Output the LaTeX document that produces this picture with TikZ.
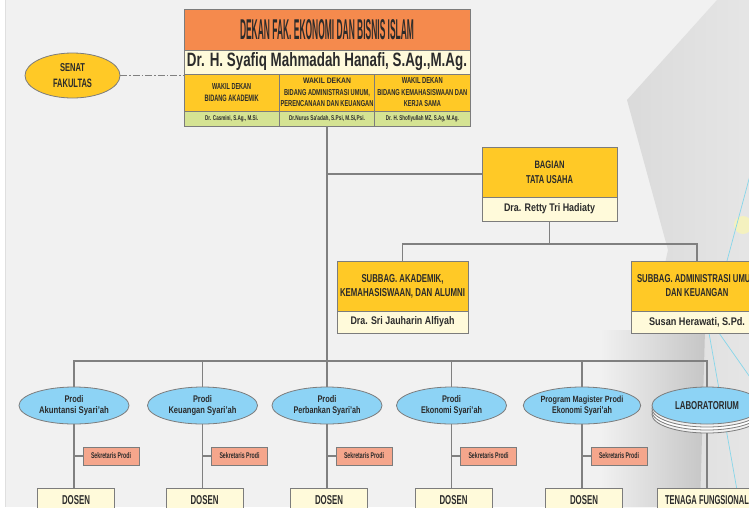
\documentclass[tikz,border=0pt]{standalone}
\usepackage{fontspec}
\setmainfont{Liberation Sans}
\usepackage{graphicx}
\usetikzlibrary{shapes.geometric}
\definecolor{bgc}{HTML}{F1F1F1}
\definecolor{orangeC}{HTML}{F58A4D}
\definecolor{creamC}{HTML}{FFFADA}
\definecolor{yelC}{HTML}{FFC926}
\definecolor{greenC}{HTML}{D5E393}
\definecolor{blueC}{HTML}{8DD3F5}
\definecolor{salC}{HTML}{F5A68C}
\definecolor{edgeC}{HTML}{7C7C7C}
\definecolor{lineC}{HTML}{808080}
\definecolor{txtC}{HTML}{2B2B2B}
\definecolor{cyanC}{HTML}{86D6EA}
\newcommand\ft[3]{\resizebox{#1pt}{#2pt}{\bfseries #3}}
\tikzset{
 box/.style={draw=edgeC, line width=0.8pt, inner sep=0pt, text=txtC, align=center, rectangle},
 ov/.style={draw=edgeC, line width=0.8pt, ellipse, inner sep=0pt, fill=blueC, text=txtC, align=center, minimum width=110pt, minimum height=37pt},
 conn/.style={draw=lineC, line width=1.1pt},
 sek/.style={box, fill=salC, minimum width=56pt, minimum height=18pt},
 dos/.style={box, fill=creamC, minimum width=77pt, minimum height=25pt},
 lh/.style={font=\fontsize{8}{#1}\selectfont},
}
\begin{document}
\begin{tikzpicture}[x=1pt,y=-1pt]
\useasboundingbox (0,0) rectangle (749,507);
\clip (0,0) rectangle (749,507);
% background
\fill[bgc] (0,0) rectangle (749,507);
\fill[white] (0,0) rectangle (5,507);
\draw[gray!25, line width=0.6pt] (5.5,0) -- (5.5,507);
\shade[left color=gray!30, right color=gray!20] (717,0) -- (749,0) -- (749,507) -- (610,507) -- (668,250) -- (627,100) -- cycle;
\shade[left color=bgc, right color=gray!45] (600,330) -- (705,330) -- (700,507) -- (600,507) -- cycle;
\fill[yellow!35, opacity=0.6] (743,225) circle (9);
\draw[cyanC, line width=0.7pt] (752,168) -- (724,272);
\draw[cyanC, line width=0.7pt] (709,333) -- (740,507);
\draw[cyanC, line width=0.7pt] (719,333) -- (752,380);

% top block
\node[box, fill=orangeC, minimum width=286pt, minimum height=41pt] (dekan) at (327,29.5) {\ft{174}{20}{DEKAN FAK. EKONOMI DAN BISNIS ISLAM}};
\node[box, fill=creamC, minimum width=286pt, minimum height=24pt] (nama) at (327,62) {\ft{280}{14}{Dr. H. Syafiq Mahmadah Hanafi, S.Ag.,M.Ag.}};
\node[box, fill=yelC, minimum width=95.33pt, minimum height=37pt, lh=12] (w1) at (231.67,92.5) {\ft{39}{6}{WAKIL DEKAN}\\\ft{54}{6.5}{BIDANG AKADEMIK}};
\node[box, fill=yelC, minimum width=95.33pt, minimum height=37pt, lh=11.5] (w2) at (327,92.5) {\ft{48}{5.5}{WAKIL DEKAN}\\\ft{86}{6}{BIDANG ADMINISTRASI UMUM,}\\\ft{93}{6}{PERENCANAAN DAN KEUANGAN}};
\node[box, fill=yelC, minimum width=95.33pt, minimum height=37pt, lh=11.5] (w3) at (422.33,92.5) {\ft{41}{6}{WAKIL DEKAN}\\\ft{90}{6}{BIDANG KEMAHASISWAAN DAN}\\\ft{37}{6}{KERJA SAMA}};
\node[box, fill=greenC, minimum width=95.33pt, minimum height=15pt] (n1) at (231.67,118.5) {\ft{53}{5}{Dr. Casmini, S.Ag., M.Si.}};
\node[box, fill=greenC, minimum width=95.33pt, minimum height=15pt] (n2) at (327,118.5) {\ft{76}{5}{Dr.Nurus Sa'adah, S.Psi, M.Si,Psi.}};
\node[box, fill=greenC, minimum width=95.33pt, minimum height=15pt] (n3) at (422.33,118.5) {\ft{73}{5}{Dr. H. Shofiyullah MZ, S.Ag, M.Ag.}};

% senat
\node[ov, fill=yelC, minimum width=95pt, minimum height=45pt, lh=16] (senat) at (72.5,75.5) {\ft{25}{8}{SENAT}\\\ft{39}{8.5}{FAKULTAS}};

% bagian tata usaha
\node[box, fill=yelC, minimum width=135pt, minimum height=50pt, lh=15] (bag) at (549.5,172) {\ft{30}{7.5}{BAGIAN}\\\ft{47}{8}{TATA USAHA}};
\node[box, fill=creamC, minimum width=135pt, minimum height=24pt] (bagn) at (549.5,209) {\ft{91}{8}{Dra. Retty Tri Hadiaty}};

% subbag
\node[box, fill=yelC, minimum width=131pt, minimum height=50pt, lh=14] (sa) at (402.5,286) {\ft{82}{8}{SUBBAG. AKADEMIK,}\\\ft{125}{8}{KEMAHASISWAAN, DAN ALUMNI}};
\node[box, fill=creamC, minimum width=131pt, minimum height=22pt] (san) at (402.5,322) {\ft{104}{8}{Dra. Sri Jauharin Alfiyah}};
\node[box, fill=yelC, minimum width=131pt, minimum height=50pt, lh=14] (sb) at (697,286) {\ft{120}{8}{SUBBAG. ADMINISTRASI UMUM}\\\ft{63}{8}{DAN KEUANGAN}};
\node[box, fill=creamC, minimum width=131pt, minimum height=22pt] (sbn) at (697,322) {\ft{96}{8}{Susan Herawati, S.Pd.}};

% prodi
\node[ov, lh=11] (p1) at (74,405.5) {\ft{19}{7}{Prodi}\\\ft{70}{7}{Akuntansi Syari'ah}};
\node[ov, lh=11] (p2) at (202.5,405.5) {\ft{19}{7}{Prodi}\\\ft{68}{7}{Keuangan Syari'ah}};
\node[ov, lh=11] (p3) at (327,405.5) {\ft{19}{7}{Prodi}\\\ft{67}{7}{Perbankan Syari'ah}};
\node[ov, lh=11] (p4) at (451.5,405.5) {\ft{19}{7}{Prodi}\\\ft{61}{7}{Ekonomi Syari'ah}};
\node[ov, lh=10.5] (p5) at (582,405.5) {\ft{83}{6.5}{Program Magister Prodi}\\\ft{60}{7}{Ekonomi Syari'ah}};
\node[ov, fill=gray!10] (lab3) at (707,414.5) {};
\node[ov, fill=white] (lab2) at (707,411.5) {};
\node[ov, fill=gray!10] (lab1) at (707,408.5) {};
\node[ov] (p6) at (707,405.5) {\ft{64}{8}{LABORATORIUM}};

% sekretaris
\node[sek] (s1) at (111,456) {\ft{40}{6}{Sekretaris Prodi}};
\node[sek] (s2) at (239.5,456) {\ft{40}{6}{Sekretaris Prodi}};
\node[sek] (s3) at (364,456) {\ft{40}{6}{Sekretaris Prodi}};
\node[sek] (s4) at (488.5,456) {\ft{40}{6}{Sekretaris Prodi}};
\node[sek] (s5) at (619,456) {\ft{40}{6}{Sekretaris Prodi}};

% dosen
\node[dos] (d1) at (76,500.5) {\ft{28}{9}{DOSEN}};
\node[dos] (d2) at (204.5,500.5) {\ft{28}{9}{DOSEN}};
\node[dos] (d3) at (329,500.5) {\ft{28}{9}{DOSEN}};
\node[dos] (d4) at (453.5,500.5) {\ft{28}{9}{DOSEN}};
\node[dos] (d5) at (584,500.5) {\ft{28}{9}{DOSEN}};
\node[dos, minimum width=100pt] (t6) at (707,500.5) {\ft{84}{9}{TENAGA FUNGSIONAL}};

% connectors
\draw[lineC, line width=0.9pt, dash pattern=on 7pt off 2pt on 1.5pt off 2pt] (senat.east) -- (senat.east -| dekan.west);
\draw[conn] (n2.south) -- (p3.north);
\coordinate (tb) at (327,174);
\draw[conn] (tb) -- (tb -| bag.west);
\coordinate (jb) at (549.5,244);
\draw[conn] (bagn.south) -- (jb);
\draw[conn] (sa.north) |- (jb) -| (sb.north);
\coordinate (jp) at (327,361);
\draw[conn] (p1.north) |- (jp) -| (p6.north);
\draw[conn] (p2.north) -- (p2.north |- jp);
\draw[conn] (p4.north) -- (p4.north |- jp);
\draw[conn] (p5.north) -- (p5.north |- jp);
\foreach \i in {1,...,5}{
  \draw[conn] (p\i.south) -- (p\i.south |- d\i.north);
  \draw[conn] (p\i.south |- s\i.west) -- (s\i.west);
}
\draw[conn] (lab3.south) -- (lab3.south |- t6.north);
\end{tikzpicture}
\end{document}
